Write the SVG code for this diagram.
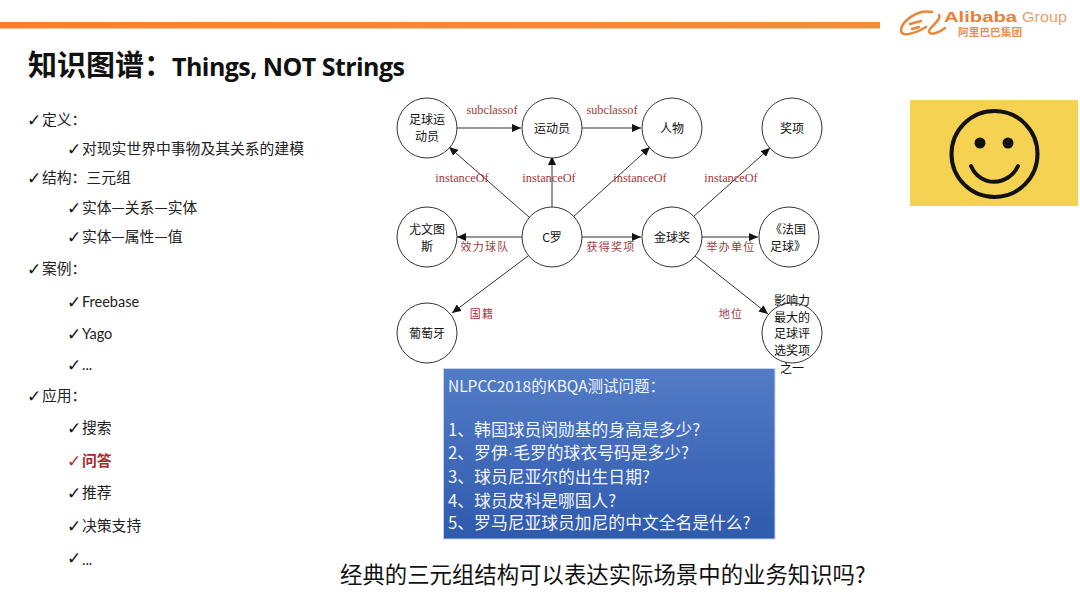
<svg xmlns="http://www.w3.org/2000/svg" width="1080" height="606" viewBox="0 0 1080 606">
<defs>
<marker id="arr" markerWidth="10" markerHeight="8" refX="9" refY="4" orient="auto" markerUnits="userSpaceOnUse"><path d="M0 0L9 4L0 8Z" fill="#111"/></marker>
<linearGradient id="bl" x1="0" y1="0" x2="0" y2="1"><stop offset="0" stop-color="#537cc6"/><stop offset="1" stop-color="#2f5aad"/></linearGradient>
<linearGradient id="bar" x1="0" y1="0" x2="1" y2="0"><stop offset="0" stop-color="#f97f30"/><stop offset="1" stop-color="#ef8f3e"/></linearGradient>
</defs>
<style>
text{font-family:"Noto Sans CJK SC","Liberation Sans",sans-serif}
.li{font-size:14.8px;fill:#222}
.red{fill:#a52a2a;font-weight:700}
.lat{font-family:Lato,"Liberation Sans",sans-serif;font-size:14.5px;fill:#222}
.ck{font-family:"DejaVu Sans",sans-serif;font-size:17px;font-weight:700;fill:#111}
.ckr{font-family:"DejaVu Sans",sans-serif;font-size:17px;font-weight:700;fill:#b03030}
.n{fill:#fff;stroke:#333;stroke-width:1}
.nt{font-size:12px;fill:#111;text-anchor:middle}
.c{stroke:#333;stroke-width:1;fill:none;marker-end:url(#arr)}
.e{font-family:"Liberation Serif",serif;font-size:12.3px;fill:#a03a3a;text-anchor:middle}
.z{font-size:11px;fill:#a03a3a;text-anchor:middle;letter-spacing:1.2px}
.q{font-size:16.8px;fill:#f2f5fb}
.logo{fill:none;stroke:#e8863a;stroke-width:2.5;stroke-linecap:round}
</style>
<rect width="1080" height="606" fill="#fff"/>
<rect x="0" y="22" width="880" height="6.5" fill="url(#bar)"/>
<g id="logo">
<path class="logo" d="M932 12C918 9 901 21 901 31C902 37 914 34 926 27"/>
<path class="logo" stroke-width="1.6" d="M910 24L921 21M912 29L919 27"/>
<path class="logo" d="M939 15C942 20 928 28 929 32C931 36 940 32 945 28"/>
<text x="944" y="22" font-size="15.5" font-weight="700" fill="#e8803a" textLength="73" lengthAdjust="spacingAndGlyphs" style="font-family:'Liberation Sans',sans-serif">Alibaba</text>
<text x="1022" y="22" font-size="15.5" fill="#eba06a" textLength="45" lengthAdjust="spacingAndGlyphs" style="font-family:'Liberation Sans',sans-serif">Group</text>
<text x="958" y="36" font-size="10.7" font-weight="700" fill="#e8905a">阿里巴巴集团</text>
</g>
<text x="28" y="76" font-size="29" font-weight="700" fill="#111">知识图谱：</text>
<text x="172" y="76" font-size="25" font-weight="700" fill="#111" style="font-family:'Open Sans','Liberation Sans',sans-serif" textLength="233">Things, NOT Strings</text>
<g id="list">
<text class="ck" x="27" y="126">✓</text><text class="li" x="42" y="125">定义：</text>
<text class="ck" x="67" y="155">✓</text><text class="li" x="82" y="154">对现实世界中事物及其关系的建模</text>
<text class="ck" x="27" y="184">✓</text><text class="li" x="42" y="183">结构：三元组</text>
<text class="ck" x="67" y="214">✓</text><text class="li" x="82" y="213">实体—关系—实体</text>
<text class="ck" x="67" y="243">✓</text><text class="li" x="82" y="242">实体—属性—值</text>
<text class="ck" x="27" y="275">✓</text><text class="li" x="42" y="274">案例：</text>
<text class="ck" x="67" y="308">✓</text><text class="lat" x="82" y="307">Freebase</text>
<text class="ck" x="67" y="340">✓</text><text class="lat" x="82" y="339">Yago</text>
<text class="ck" x="67" y="371">✓</text><text class="lat" x="82" y="370">...</text>
<text class="ck" x="27" y="402">✓</text><text class="li" x="42" y="401">应用：</text>
<text class="ck" x="67" y="434">✓</text><text class="li" x="82" y="433">搜索</text>
<text class="ckr" x="67" y="467">✓</text><text class="li red" x="82" y="466">问答</text>
<text class="ck" x="67" y="499">✓</text><text class="li" x="82" y="498">推荐</text>
<text class="ck" x="67" y="532">✓</text><text class="li" x="82" y="531">决策支持</text>
<text class="ck" x="67" y="564">✓</text><text class="lat" x="82" y="565">...</text>
</g>
<g id="connectors">
<path class="c" d="M457 128H521"/><path class="c" d="M582 128H641"/>
<path class="c" d="M529 217L449 147"/><path class="c" d="M552 207V156"/><path class="c" d="M573 217L650 147"/>
<path class="c" d="M693 217L770 148"/>
<path class="c" d="M522 237H457"/><path class="c" d="M582 237H641"/><path class="c" d="M701 237H758"/>
<path class="c" d="M528 256L452 313"/><path class="c" d="M695 256L768 314"/>
</g>
<g id="edge-labels">
<text class="e" x="492" y="114">subclassof</text><text class="e" x="612" y="114">subclassof</text>
<text class="e" x="462" y="182">instanceOf</text><text class="e" x="549" y="182">instanceOf</text><text class="e" x="640" y="182">instanceOf</text><text class="e" x="731" y="182">instanceOf</text>
<text class="z" x="485" y="251">效力球队</text><text class="z" x="611" y="251">获得奖项</text><text class="z" x="731" y="251">举办单位</text>
<text class="z" x="482" y="318">国籍</text><text class="z" x="731" y="318">地位</text>
</g>
<g id="n1"><circle class="n" cx="427" cy="128" r="30"/><text class="nt" x="427" y="124">足球运</text><text class="nt" x="427" y="141">动员</text></g>
<g id="n2"><circle class="n" cx="552" cy="128" r="30"/><text class="nt" x="552" y="133">运动员</text></g>
<g id="n3"><circle class="n" cx="672" cy="128" r="30"/><text class="nt" x="672" y="133">人物</text></g>
<g id="n4"><circle class="n" cx="792" cy="128" r="30"/><text class="nt" x="792" y="133">奖项</text></g>
<g id="n5"><circle class="n" cx="427" cy="237" r="30"/><text class="nt" x="427" y="234">尤文图</text><text class="nt" x="427" y="251">斯</text></g>
<g id="n6"><circle class="n" cx="552" cy="237" r="30"/><text class="nt" x="552" y="242">C罗</text></g>
<g id="n7"><circle class="n" cx="672" cy="237" r="30"/><text class="nt" x="672" y="242">金球奖</text></g>
<g id="n8"><circle class="n" cx="789" cy="237" r="30"/><text class="nt" x="788" y="234">《法国</text><text class="nt" x="788" y="251">足球》</text></g>
<g id="n9"><circle class="n" cx="427" cy="333" r="30"/><text class="nt" x="427" y="338">葡萄牙</text></g>
<g id="n10"><circle class="n" cx="792" cy="333" r="30"/><text class="nt" x="792" y="304.5">影响力</text><text class="nt" x="792" y="321.5">最大的</text><text class="nt" x="792" y="337.5">足球评</text><text class="nt" x="792" y="354.5">选奖项</text><text class="nt" x="792" y="372.5">之一</text></g>
<g id="qa"><rect x="443.500" y="368.500" width="331.500" height="170.500" fill="url(#bl)" stroke="#c3d3ee" stroke-width="1"/>
<text class="q" x="448" y="392" style="font-size:15.5px">NLPCC2018的KBQA测试问题：</text>
<text class="q" x="448" y="436">1、韩国球员闵勋基的身高是多少?</text>
<text class="q" x="448" y="459">2、罗伊<tspan style="font-family:'Liberation Sans',sans-serif">·</tspan>毛罗的球衣号码是多少?</text>
<text class="q" x="448" y="483">3、球员尼亚尔的出生日期?</text>
<text class="q" x="448" y="507">4、球员皮科是哪国人?</text>
<text class="q" x="448" y="529">5、罗马尼亚球员加尼的中文全名是什么?</text></g>
<text x="340" y="583" font-size="22.4" fill="#111">经典的三元组结构可以表达实际场景中的业务知识吗?</text>
<g id="smile"><rect x="910" y="100" width="168" height="106" fill="#f5d251"/>
<circle cx="994.500" cy="154" r="43" fill="none" stroke="#111" stroke-width="4"/><circle cx="980" cy="143" r="5.500" fill="#111"/><circle cx="1008" cy="143" r="5.500" fill="#111"/>
<path d="M971 166C980 187 1008 187 1018 166" fill="none" stroke="#111" stroke-width="4" stroke-linecap="round"/></g>
</svg>
